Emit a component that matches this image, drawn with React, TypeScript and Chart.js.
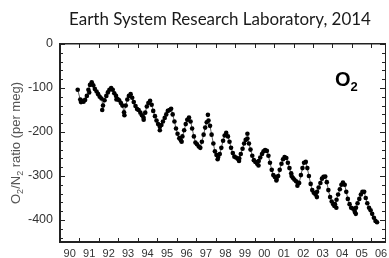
import React, { useEffect, useRef } from 'react';
import { Chart, registerables } from 'chart.js';

Chart.register(...registerables);

// Monthly O2/N2 values (per meg)
const sampleYears = [
  1990.91,
  1991.04, 1991.13, 1991.21, 1991.29, 1991.38, 1991.46, 1991.54, 1991.63, 1991.71, 1991.79, 1991.88, 1991.96,
  1992.04, 1992.13, 1992.21, 1992.29, 1992.38, 1992.46, 1992.54, 1992.63, 1992.71, 1992.79, 1992.88, 1992.96,
  1993.04, 1993.13, 1993.21, 1993.29, 1993.38, 1993.46, 1993.54, 1993.63, 1993.71, 1993.79, 1993.88, 1993.96,
  1994.04, 1994.13, 1994.21, 1994.29, 1994.38, 1994.46, 1994.54, 1994.63, 1994.71, 1994.79, 1994.88, 1994.96,
  1995.04, 1995.13, 1995.21, 1995.29, 1995.38, 1995.46, 1995.54, 1995.63, 1995.71, 1995.79, 1995.88, 1995.96,
  1996.04, 1996.13, 1996.21, 1996.29, 1996.38, 1996.46, 1996.54, 1996.63, 1996.71, 1996.79, 1996.88, 1996.96,
  1997.04, 1997.13, 1997.21, 1997.29, 1997.38, 1997.46, 1997.54, 1997.63, 1997.71, 1997.79, 1997.88, 1997.96,
  1998.04, 1998.13, 1998.21, 1998.29, 1998.38, 1998.46, 1998.54, 1998.63, 1998.71, 1998.79, 1998.88, 1998.96,
  1999.04, 1999.13, 1999.21, 1999.29, 1999.38, 1999.46, 1999.54, 1999.63, 1999.71, 1999.79, 1999.88, 1999.96,
  2000.04, 2000.13, 2000.21, 2000.29, 2000.38, 2000.46, 2000.54, 2000.63, 2000.71, 2000.79, 2000.88, 2000.96,
  2001.04, 2001.13, 2001.21, 2001.29, 2001.38, 2001.46, 2001.54, 2001.63, 2001.71, 2001.79, 2001.88, 2001.96,
  2002.04, 2002.13, 2002.21, 2002.29, 2002.38, 2002.46, 2002.54, 2002.63, 2002.71, 2002.79, 2002.88, 2002.96,
  2003.04, 2003.13, 2003.21, 2003.29, 2003.38, 2003.46, 2003.54, 2003.63, 2003.71, 2003.79, 2003.88, 2003.96,
  2004.04, 2004.13, 2004.21, 2004.29, 2004.38, 2004.46, 2004.54, 2004.63, 2004.71, 2004.79, 2004.88, 2004.96,
  2005.04, 2005.13, 2005.21, 2005.29, 2005.38, 2005.46, 2005.54, 2005.63, 2005.71, 2005.79, 2005.88, 2005.96,
  2006.04, 2006.13, 2006.21, 2006.29,
];

const o2Values = [
  -104,
  -126, -129, -131, -127, -118, -104, -93, -87, -94, -102, -108, -114,
  -120, -124, -140, -128, -118, -110, -104, -100, -104, -112, -118, -125,
  -128, -134, -140, -155, -140, -126, -118, -114, -122, -132, -141, -148,
  -150, -156, -162, -167, -156, -142, -134, -129, -138, -152, -164, -174,
  -182, -188, -184, -176, -168, -160, -152, -150, -147, -160, -176, -192,
  -204, -214, -219, -210, -196, -182, -172, -167, -176, -192, -210, -224,
  -228, -233, -236, -222, -206, -190, -178, -174, -186, -206, -226, -244,
  -252, -257, -250, -236, -220, -208, -202, -210, -222, -236, -248, -256,
  -258, -261, -260, -250, -238, -226, -218, -215, -226, -240, -254, -264,
  -268, -272, -266, -258, -250, -244, -241, -243, -254, -270, -286, -298,
  -302, -307, -300, -286, -272, -262, -257, -259, -270, -282, -294, -304,
  -308, -312, -315, -316, -298, -282, -270, -268, -282, -300, -318, -332,
  -338, -342, -336, -326, -316, -306, -302, -301, -314, -332, -348, -358,
  -364, -364, -354, -342, -330, -320, -315, -320, -336, -352, -364, -372,
  -374, -377, -372, -362, -352, -342, -336, -336, -350, -362, -372, -378,
  -386, -395, -402, -405,
];

// Isolated flask samples off the seasonal line
const extraYears = [1991.08, 1991.5, 1992.17, 1992.9, 1993.31, 1994.3, 1995.13, 1996.25, 1997.6, 1998.1, 1999.2, 1999.63, 2000.2, 2001.12, 2001.9, 2002.2, 2003.2, 2004.1, 2004.2, 2005.15, 2005.2];
const extraValues = [-132, -110, -150, -126, -162, -172, -196, -222, -161, -262, -266, -204, -276, -310, -300, -322, -348, -368, -372, -382, -386];

const yTickValues = [0, -100, -200, -300, -400];
const xTickLabels = ['90', '91', '92', '93', '94', '95', '96', '97', '98', '99', '00', '01', '02', '03', '04', '05', '06'];
const xLabelYears = [1990.5, 1991.5, 1992.5, 1993.5, 1994.5, 1995.5, 1996.5, 1997.5, 1998.5, 1999.5, 2000.5, 2001.5, 2002.5, 2003.5, 2004.5, 2005.5, 2006.5];

const X_MIN = 1990;
const X_MAX = 2006.7;
const Y_MIN = -450;
const Y_MAX = 0;
const TITLE = 'Earth System Research Laboratory, 2014';
const FRAME = '#222';

function drawTicks(chart: any) {
  const ctx = chart.ctx;
  const a = chart.chartArea;
  const sx = chart.scales.x;
  const sy = chart.scales.y;
  const L = Math.round(a.left);
  const R = Math.round(a.right);
  const T = Math.round(a.top);
  const B = Math.round(a.bottom);
  ctx.save();
  ctx.fillStyle = FRAME;
  for (let yr = 1991; yr < X_MAX; yr++) {
    const px = Math.round(sx.getPixelForValue(yr));
    ctx.fillRect(px, B - 4, 1, 4);
    ctx.fillRect(px, T, 1, 4);
  }
  for (let v = Y_MAX; v > Y_MIN; v -= 20) {
    const py = Math.round(sy.getPixelForValue(v));
    const len = v % 100 === 0 ? 5 : 3;
    ctx.fillRect(L, py, len, 1);
    ctx.fillRect(R - len, py, len, 1);
  }
  ctx.restore();
}

function drawSegments(ctx: CanvasRenderingContext2D, segs: { t: string; sub?: boolean }[], x: number, y: number, size: number, subSize: number, weight: string) {
  let cx = x;
  for (const s of segs) {
    ctx.font = `${weight} ${s.sub ? subSize : size}px "Liberation Sans", Arial, sans-serif`;
    ctx.fillText(s.t, cx, s.sub ? y + size * 0.25 : y);
    cx += ctx.measureText(s.t).width;
  }
  return cx - x;
}

function measureSegments(ctx: CanvasRenderingContext2D, segs: { t: string; sub?: boolean }[], size: number, subSize: number, weight: string) {
  let w = 0;
  for (const s of segs) {
    ctx.font = `${weight} ${s.sub ? subSize : size}px "Liberation Sans", Arial, sans-serif`;
    w += ctx.measureText(s.t).width;
  }
  return w;
}

function drawTexts(chart: any) {
  const ctx = chart.ctx;
  ctx.save();
  ctx.fillStyle = '#1a1a1a';
  ctx.font = '16px Lato, "Open Sans", sans-serif';
  const tw = ctx.measureText(TITLE).width;
  const size = (16 * 302) / tw;
  ctx.font = `${size.toFixed(2)}px Lato, "Open Sans", sans-serif`;
  ctx.textAlign = 'center';
  ctx.textBaseline = 'alphabetic';
  ctx.fillText(TITLE, 220, 25);

  ctx.textAlign = 'left';
  ctx.fillStyle = '#000';
  drawSegments(ctx, [{ t: 'O' }, { t: '2', sub: true }], 335, 86, 20, 13, 'bold');

  const segs = [{ t: 'O' }, { t: '2', sub: true }, { t: '/N' }, { t: '2', sub: true }, { t: ' ratio (per meg)' }];
  ctx.fillStyle = '#555';
  const w = measureSegments(ctx, segs, 13, 9, 'normal');
  ctx.translate(20, 143);
  ctx.rotate(-Math.PI / 2);
  drawSegments(ctx, segs, -w / 2, 0, 13, 9, 'normal');
  ctx.restore();
}

const decorPlugin = {
  id: 'o2decor',
  afterDraw(chart: any) {
    drawTicks(chart);
    drawTexts(chart);
  },
};

export default function App() {
  const ref = useRef<HTMLCanvasElement | null>(null);
  useEffect(() => {
    if (!ref.current) return;
    const chart = new Chart(ref.current, {
      type: 'scatter',
      data: {
        datasets: [
          {
            data: sampleYears.map((x, i) => ({ x, y: o2Values[i] })),
            showLine: true,
            borderColor: '#333',
            borderWidth: 0.8,
            pointRadius: 2.3,
            pointBackgroundColor: '#000',
            pointBorderWidth: 0,
            tension: 0,
          },
          {
            data: extraYears.map((x, i) => ({ x, y: extraValues[i] })),
            showLine: false,
            pointRadius: 2.3,
            pointBackgroundColor: '#000',
            pointBorderWidth: 0,
          },
        ],
      },
      options: {
        animation: false,
        responsive: false,
        layout: { padding: { top: 44, right: 3, left: 0, bottom: 0 } },
        plugins: { legend: { display: false }, tooltip: { enabled: false }, title: { display: false } },
        scales: {
          x: {
            type: 'linear',
            position: 'bottom',
            min: X_MIN,
            max: X_MAX,
            grid: { display: false, drawTicks: false },
            border: { display: true, color: FRAME, width: 2 },
            afterBuildTicks: (s: any) => {
              s.ticks = xLabelYears.map((v) => ({ value: v }));
            },
            afterFit: (s: any) => {
              s.height = 16;
              s.paddingLeft = 0;
              s.paddingRight = 0;
            },
            ticks: {
              autoSkip: false,
              maxRotation: 0,
              padding: 5,
              color: '#333',
              font: { family: '"Liberation Sans", Arial, sans-serif', size: 11 },
              callback: (_v: any, i: number) => xTickLabels[i],
            },
          },
          x2: {
            type: 'linear',
            position: 'top',
            min: X_MIN,
            max: X_MAX,
            grid: { display: false, drawTicks: false },
            border: { display: true, color: FRAME, width: 1.5 },
            ticks: { display: false },
            afterFit: (s: any) => {
              s.height = 0;
              s.paddingLeft = 0;
              s.paddingRight = 0;
            },
          },
          y: {
            type: 'linear',
            position: 'left',
            min: Y_MIN,
            max: Y_MAX,
            grid: { display: false, drawTicks: false },
            border: { display: true, color: FRAME, width: 2 },
            afterBuildTicks: (s: any) => {
              s.ticks = yTickValues.map((v) => ({ value: v }));
            },
            afterFit: (s: any) => {
              s.width = 60;
            },
            ticks: {
              padding: 7,
              color: '#333',
              font: { family: '"Liberation Sans", Arial, sans-serif', size: 12.5 },
              callback: (v: any) => String(v),
            },
          },
          y2: {
            type: 'linear',
            position: 'right',
            min: Y_MIN,
            max: Y_MAX,
            grid: { display: false, drawTicks: false },
            border: { display: true, color: FRAME, width: 1 },
            ticks: { display: false },
            afterFit: (s: any) => {
              s.width = 0;
            },
          },
        },
      },
      plugins: [decorPlugin],
    });
    return () => chart.destroy();
  }, []);
  return (
    <div style={{ position: 'fixed', left: 0, top: 0, width: 389, height: 258, background: '#fff' }}>
      <canvas ref={ref} width={389} height={258} style={{ display: 'block', width: 389, height: 258 }} />
    </div>
  );
}
